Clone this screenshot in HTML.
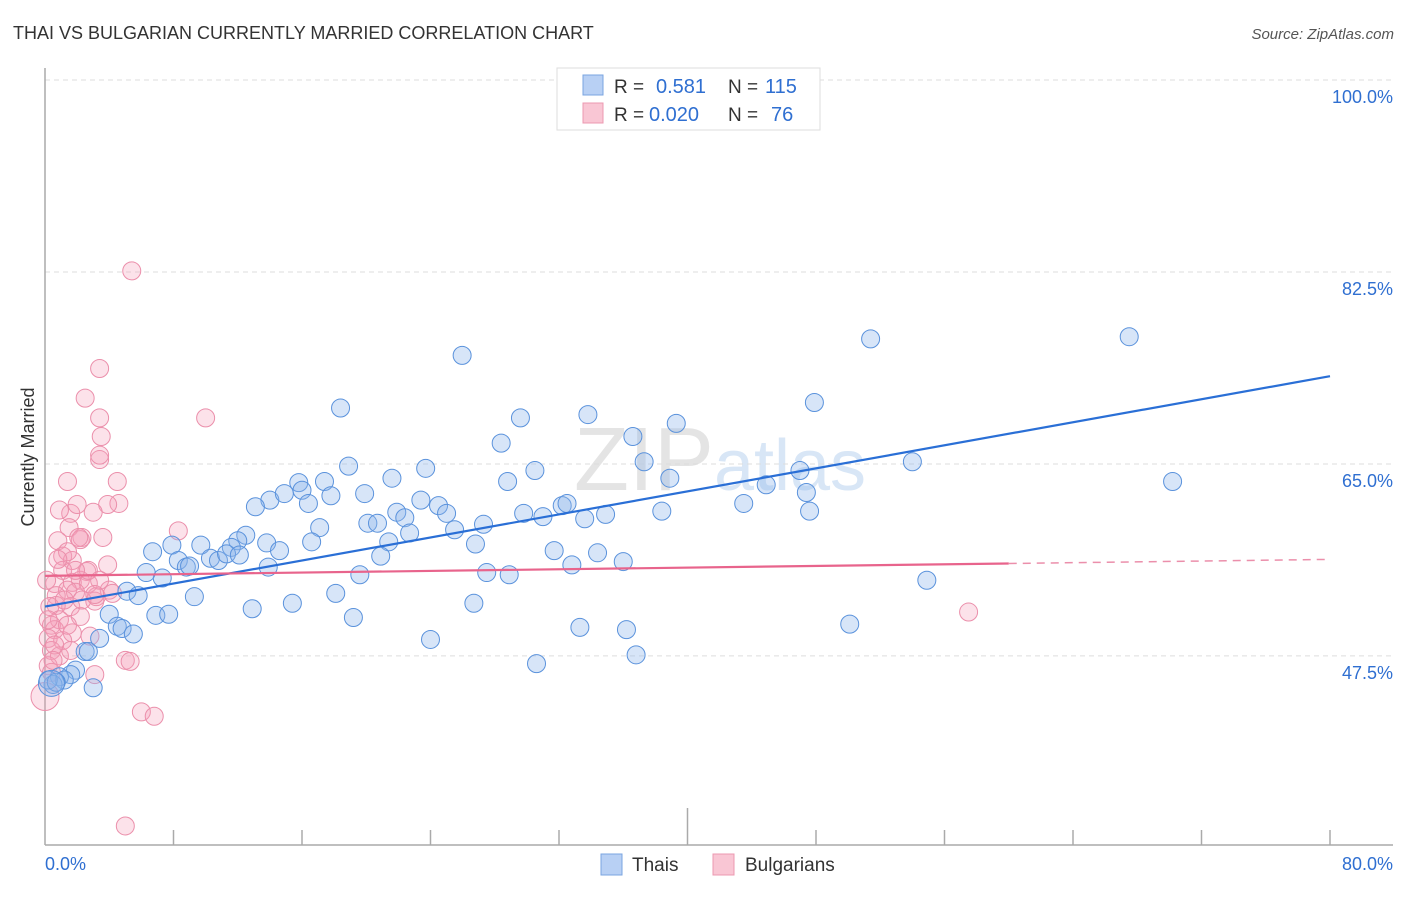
<!DOCTYPE html>
<html><head><meta charset="utf-8"><style>
body{margin:0;background:#fff;font-family:"Liberation Sans",sans-serif;}
svg text{font-family:"Liberation Sans",sans-serif;}
</style></head><body>
<svg id="chart" width="1406" height="892">
<text x="13" y="39" font-size="18" fill="#333">THAI VS BULGARIAN CURRENTLY MARRIED CORRELATION CHART</text>
<text x="1394" y="39" font-size="15" fill="#555" font-style="italic" text-anchor="end">Source: ZipAtlas.com</text>
<text x="720" y="490" font-size="90" fill="#e4e4e4" text-anchor="middle" font-family="Liberation Serif"><tspan>ZIP</tspan><tspan fill="#d8e6f6" font-family="Liberation Sans" font-size="72">atlas</tspan></text>
<text transform="translate(34,457) rotate(-90)" font-size="18" fill="#333" text-anchor="middle">Currently Married</text>
<g id="grid"></g>
<g id="pts"></g>
<g id="trend"></g>
<g>
<rect x="557" y="68" width="263" height="62" fill="#fff" stroke="#ddd"/>
<rect x="583" y="75" width="20" height="20" fill="#b8d0f4" stroke="#7aa4e0"/>
<rect x="583" y="103" width="20" height="20" fill="#f9c6d4" stroke="#ec98b0"/>
<text x="614" y="93" font-size="19" fill="#333">R = </text><text x="656" y="93" font-size="20" fill="#2f6fd1">0.581</text>
<text x="728" y="93" font-size="19" fill="#333">N = </text><text x="765" y="93" font-size="20" fill="#2f6fd1">115</text>
<text x="614" y="121" font-size="19" fill="#333">R = </text><text x="649" y="121" font-size="20" fill="#2f6fd1">0.020</text>
<text x="728" y="121" font-size="19" fill="#333">N = </text><text x="771" y="121" font-size="20" fill="#2f6fd1">76</text>
</g>
<g>
<rect x="601" y="854" width="21" height="21" fill="#b8d0f4" stroke="#7aa4e0"/>
<text x="632" y="871" font-size="19" fill="#333">Thais</text>
<rect x="713" y="854" width="21" height="21" fill="#f9c6d4" stroke="#ec98b0"/>
<text x="745" y="871" font-size="19" fill="#333">Bulgarians</text>
</g>
</svg>
<script>
const yTicks=[100,82.5,65,47.5];
const xTickLabels=["0.0%","80.0%"];
const blueX=[25.97,51.4,67.5,18.4,47.9,33.8,29.6,39.3,36.6,28.4,18.9,23.7,37.3,54.0,30.5,38.9,70.2,15.8,17.4,28.8,21.6,14.0,14.9,16.0,17.8,19.9,13.1,16.4,24.5,23.4,25.0,32.2,32.5,43.5,44.9,47.0,47.4,47.6,38.4,34.9,33.6,31.0,29.8,21.9,22.4,22.7,20.1,20.7,17.1,16.6,27.3,25.5,12.5,12.0,13.8,11.6,14.6,6.7,7.9,9.7,10.3,10.8,11.3,12.1,8.3,8.8,9.0,13.9,21.4,20.9,26.8,31.7,34.4,36.0,32.8,27.5,28.9,19.6,7.3,6.3,5.1,5.8,9.3,12.9,15.4,18.1,26.7,6.9,7.7,4.0,4.5,4.8,5.5,3.4,19.2,33.3,36.2,50.1,54.9,24.0,36.8,30.6,2.5,2.7,1.9,1.6,0.9,1.2,0.5,3.0,0.2,0.7,0.4];
const blueY=[74.9,76.4,76.6,70.1,70.6,69.5,69.2,68.7,67.5,66.9,64.8,64.6,65.2,65.2,64.4,63.7,63.4,63.3,63.4,63.4,63.7,61.7,62.3,62.6,62.1,62.3,61.1,61.4,61.2,61.7,60.5,61.2,61.4,61.4,63.1,64.4,62.4,60.7,60.7,60.4,60.0,60.2,60.5,60.6,60.1,58.7,59.6,59.6,59.2,57.9,59.5,59.0,58.5,58.0,57.8,57.4,57.1,57.0,57.6,57.6,56.4,56.2,56.8,56.7,56.2,55.6,55.7,55.6,57.9,56.6,57.7,57.1,56.9,56.1,55.8,55.1,54.9,54.9,54.6,55.1,53.4,53.0,52.9,51.8,52.3,53.2,52.3,51.2,51.3,51.3,50.2,50.0,49.5,49.1,51.0,50.1,49.9,50.4,54.4,49.0,47.6,46.8,47.9,47.9,46.2,45.8,45.6,45.3,44.9,44.6,45.3,45.1,45.0];
const pinkX=[5.4,3.4,2.5,3.4,10.0,3.5,3.4,3.4,1.4,4.5,4.6,3.9,3.0,1.6,2.0,8.3,1.5,3.6,2.3,0.8,2.2,3.9,1.1,1.7,2.6,1.1,2.2,1.7,2.7,0.6,1.4,0.7,1.9,1.6,3.1,3.2,0.7,2.2,0.3,0.9,0.4,0.6,1.7,2.8,0.2,1.1,4.0,4.2,0.4,0.9,0.2,0.4,3.1,5.0,5.3,6.0,6.8,5.0,57.5,0.0,0.6,1.4,2.1,2.7,3.4,0.9,0.1,1.2,2.3,3.1,0.2,0.5,1.6,0.8,1.9,1.4];
const pinkY=[82.6,73.7,71.0,69.2,69.2,67.5,65.4,65.8,63.4,63.4,61.4,61.3,60.6,60.5,61.3,58.9,59.2,58.3,58.3,58.0,58.1,55.8,56.6,56.2,55.2,55.3,54.4,54.2,54.1,54.1,53.5,53.0,53.3,52.0,52.5,52.9,52.1,51.1,52.0,50.8,50.3,49.9,49.6,49.3,49.1,48.9,53.5,53.2,48.0,47.5,46.6,46.0,45.8,47.1,47.0,42.4,42.0,32.0,51.5,43.8,48.5,57.0,58.3,55.3,54.4,60.8,54.4,52.6,52.6,53.1,50.8,47.1,48.0,56.3,55.3,50.3];
const blueTrend=[52.0,73.0];
const pinkTrend=[54.8,56.3];
const pinkSolidEnd=60;
const NS="http://www.w3.org/2000/svg";
const X0=45,X1=1330,Y100=80,PXPER=10.97;
function sx(v){return X0+(X1-X0)*v/80;}
function sy(v){return Y100+(100-v)*PXPER;}
function mk(tag,attrs,parent){const e=document.createElementNS(NS,tag);for(const k in attrs)e.setAttribute(k,attrs[k]);parent.appendChild(e);return e;}
const grid=document.getElementById('grid');
mk('line',{x1:45,y1:80,x2:1393,y2:80,stroke:'#ddd','stroke-dasharray':'5,4'},grid);
yTicks.forEach(t=>{
 const l=mk('line',{x1:45,y1:sy(t),x2:1393,y2:sy(t),stroke:'#ddd','stroke-dasharray':'5,4'},grid);
 
 
 const tx=mk('text',{x:1393,y:sy(t)+23,'font-size':18,fill:'#2f6fd1','text-anchor':'end'},grid);
 tx.textContent=t.toFixed(1)+'%';
 
 
});
const ax=mk('line',{x1:45,y1:68,x2:45,y2:845,stroke:'#aaa','stroke-width':1.5},grid);


const bx=mk('line',{x1:45,y1:845,x2:1393,y2:845,stroke:'#aaa','stroke-width':1.5},grid);


for(let i=1;i<=10;i++){const x=sx(i*8);const t=mk('line',{x1:x,y1:i==5?808:830,x2:x,y2:845,stroke:'#aaa','stroke-width':1.5},grid);
 
 }
const xl0=mk('text',{x:45,y:870,'font-size':18,fill:'#2f6fd1'},grid);xl0.textContent=xTickLabels[0];


const xl1=mk('text',{x:1393,y:870,'font-size':18,fill:'#2f6fd1','text-anchor':'end'},grid);xl1.textContent=xTickLabels[1];


const pts=document.getElementById('pts');
pinkX.forEach((v,i)=>{const c=mk('circle',{cx:sx(v),cy:sy(pinkY[i]),r:i==59?14:9,fill:'rgba(244,160,185,0.3)',stroke:'#eb8fab','stroke-width':1},pts);
 
 });
blueX.forEach((v,i)=>{const c=mk('circle',{cx:sx(v),cy:sy(blueY[i]),r:i==blueX.length-1?13:9,fill:'rgba(140,180,235,0.35)',stroke:'#5a92dc','stroke-width':1},pts);
 
 });
const tr=document.getElementById('trend');
const bl=mk('line',{x1:sx(0),y1:sy(blueTrend[0]),x2:sx(80),y2:sy(blueTrend[1]),stroke:'#2a6fd6','stroke-width':2.2},tr);


const pm=pinkTrend[0]+(pinkTrend[1]-pinkTrend[0])*pinkSolidEnd/80;
const pl=mk('line',{x1:sx(0),y1:sy(pinkTrend[0]),x2:sx(pinkSolidEnd),y2:sy(pm),stroke:'#e8648c','stroke-width':2.2},tr);


const pd=mk('line',{x1:sx(pinkSolidEnd),y1:sy(pm),x2:sx(80),y2:sy(pinkTrend[1]),stroke:'#eb8fab','stroke-width':1.5,'stroke-dasharray':'8,6'},tr);


</script>
</body></html>
